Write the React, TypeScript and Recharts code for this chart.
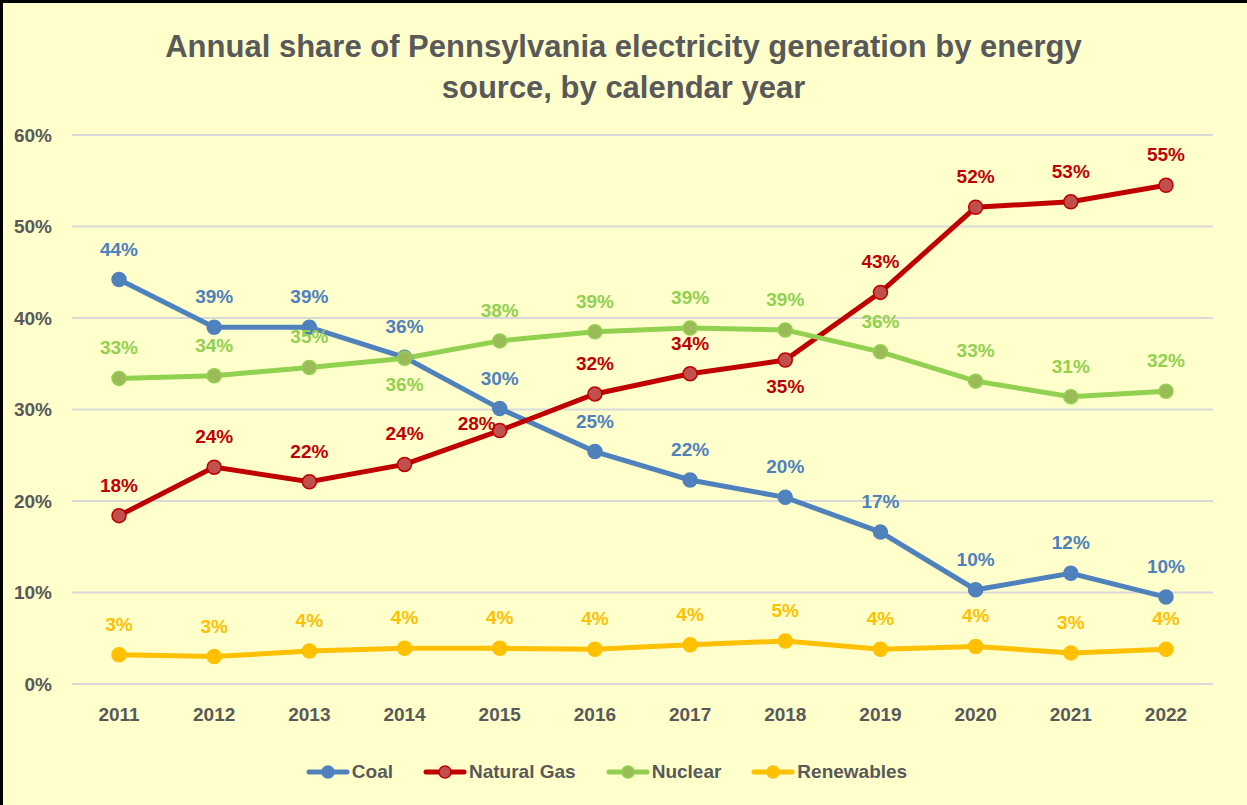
import { CartesianGrid, LabelList, Legend, Line, LineChart, XAxis, YAxis } from 'recharts';

const years = ['2011', '2012', '2013', '2014', '2015', '2016', '2017', '2018', '2019', '2020', '2021', '2022'];
const coal = [44.2, 39.0, 39.0, 35.7, 30.1, 25.4, 22.3, 20.4, 16.6, 10.3, 12.1, 9.5];
const naturalGas = [18.4, 23.7, 22.1, 24.0, 27.7, 31.7, 33.9, 35.4, 42.8, 52.1, 52.7, 54.5];
const nuclear = [33.4, 33.7, 34.6, 35.6, 37.5, 38.5, 38.9, 38.7, 36.3, 33.1, 31.4, 32.0];
const renewables = [3.2, 3.0, 3.6, 3.9, 3.9, 3.8, 4.3, 4.7, 3.8, 4.1, 3.4, 3.8];
const yTicks = [0, 10, 20, 30, 40, 50, 60];

const data = years.map((year, i) => ({
  year,
  coal: coal[i],
  gas: naturalGas[i],
  nuclear: nuclear[i],
  renewables: renewables[i],
}));

const FONT = "'Liberation Sans Narrow', 'Arial Narrow', 'Liberation Sans', sans-serif";
const GREY = '#595959';

const series = [
  { key: 'coal', name: 'Coal', color: '#4F81BD', fill: '#4F81BD', labelColor: '#4F81BD' },
  { key: 'gas', name: 'Natural Gas', color: '#C00000', fill: '#C0504D', labelColor: '#C00000' },
  { key: 'nuclear', name: 'Nuclear', color: '#92D050', fill: '#9BBB59', labelColor: '#92D050' },
  { key: 'renewables', name: 'Renewables', color: '#FFC000', fill: '#FFC000', labelColor: '#FFC000' },
];

// where a data label sits when it is not above the point
const labelSpots: Record<string, Record<number, string>> = {
  gas: { 4: 'left', 7: 'below' },
  nuclear: { 3: 'below' },
};

const makeLabel = (key: string, color: string) => (props: any) => {
  const { x, y, value, index } = props;
  const spot = labelSpots[key]?.[index] ?? 'above';
  let tx = x;
  let ty = y - 24;
  let anchor = 'middle';
  if (spot === 'below') ty = y + 33;
  if (spot === 'left') {
    tx = x - 4;
    ty = y - 1;
    anchor = 'end';
  }
  return (
    <text x={tx} y={ty} textAnchor={anchor} fill={color} fontSize={19} fontWeight="bold" fontFamily={FONT}>
      {Math.round(value)}%
    </text>
  );
};

const LegendContent = () => (
  <div style={{ display: 'flex', justifyContent: 'center', gap: 30, fontFamily: FONT, fontWeight: 'bold', fontSize: 19, color: GREY }}>
    {series.map((s) => (
      <div key={s.key} style={{ display: 'flex', alignItems: 'center' }}>
        <svg width={44} height={14} style={{ marginRight: 2 }}>
          <line x1={3} y1={7} x2={41} y2={7} stroke={s.color} strokeWidth={5} strokeLinecap="round" />
          <circle cx={22} cy={7} r={6} fill={s.fill} stroke={s.color} strokeWidth={1.5} />
        </svg>
        <span>{s.name}</span>
      </div>
    ))}
  </div>
);

export default function App() {
  return (
    <div style={{ position: 'absolute', left: 0, top: 0, width: 1247, height: 805, background: '#FFFFCC', overflow: 'hidden' }}>
      <div style={{ position: 'absolute', left: 0, top: 0, width: 1247, height: 3, background: '#000' }} />
      <div style={{ position: 'absolute', left: 0, top: 0, width: 3, height: 805, background: '#000' }} />
      <div
        style={{
          position: 'absolute',
          left: 0,
          top: 26,
          width: 1247,
          textAlign: 'center',
          fontFamily: FONT,
          fontWeight: 'bold',
          fontSize: 31,
          lineHeight: '41px',
          color: GREY,
        }}
      >
        Annual share of Pennsylvania electricity generation by energy
        <br />
        source, by calendar year
      </div>
      <LineChart width={1247} height={805} data={data} margin={{ top: 135, right: 34, bottom: 0, left: 0 }}>
        <CartesianGrid vertical={false} stroke="#D9D9D9" strokeWidth={2} />
        <XAxis
          dataKey="year"
          axisLine={false}
          tickLine={false}
          height={99}
          padding={{ left: 47, right: 47 }}
          tickMargin={18}
          tick={{ fill: GREY, fontSize: 19, fontWeight: 'bold', fontFamily: FONT }}
        />
        <YAxis
          width={72}
          domain={[0, 60]}
          ticks={yTicks}
          axisLine={false}
          tickLine={false}
          tickMargin={14}
          tickFormatter={(v) => `${v}%`}
          tick={{ fill: GREY, fontSize: 19, fontWeight: 'bold', fontFamily: FONT }}
        />
        <Legend verticalAlign="bottom" content={LegendContent} wrapperStyle={{ bottom: 22 }} />
        {series.map((s) => (
          <Line
            key={s.key}
            dataKey={s.key}
            name={s.name}
            stroke={s.color}
            strokeWidth={5}
            dot={{ r: 7, fill: s.fill, stroke: s.color, strokeWidth: 1.5 }}
            activeDot={false}
            isAnimationActive={false}
          >
            <LabelList dataKey={s.key} content={makeLabel(s.key, s.labelColor)} />
          </Line>
        ))}
      </LineChart>
    </div>
  );
}
